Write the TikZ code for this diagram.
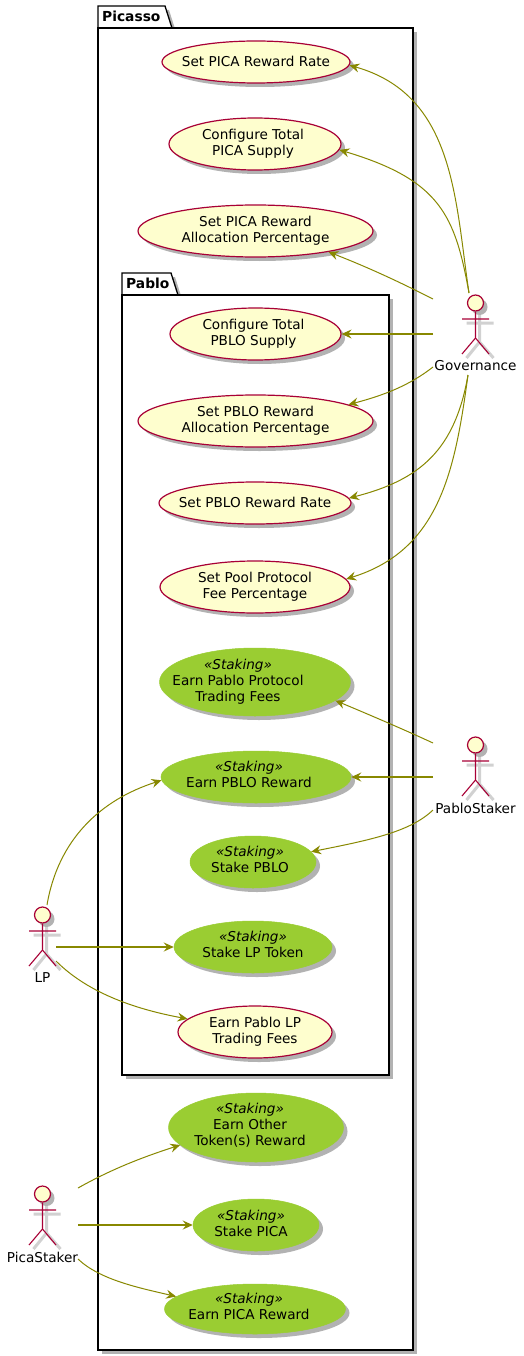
\documentclass[tikz,border=0pt]{standalone}
\usepackage{fontspec}
\setmainfont{DejaVu Sans}
\usetikzlibrary{arrows.meta,shapes.geometric,shadows}
\definecolor{CaseLine}{HTML}{A80036}
\definecolor{CaseFill}{HTML}{FEFECE}
\definecolor{StakeFill}{HTML}{9ACD32}
\definecolor{EdgeColor}{HTML}{888800}
\tikzset{
  txt/.style={align=center,inner sep=0pt,text=black,font=\fontsize{13.6}{16}\selectfont},
  boxshadow/.style={drop shadow={shadow xshift=4pt,shadow yshift=-4pt,fill=black!30,opacity=1}},
  usecase/.style={ellipse,draw=CaseLine,line width=1.2pt,fill=CaseFill,inner sep=0pt,boxshadow},
  stakecase/.style={ellipse,draw=StakeFill,line width=0.5pt,fill=StakeFill,inner sep=0pt,boxshadow},
  pkg/.style={draw=black,line width=1.3pt,fill=white,boxshadow},
  pkgname/.style={inner sep=0pt,anchor=west,font=\fontsize{13.8}{16}\selectfont\bfseries},
  edge/.style={draw=EdgeColor,line width=1pt,-{Stealth[length=10pt,width=9pt,inset=3.5pt]}},
  flatedge/.style={edge,line width=1.15pt},
}
\newcommand{\stereo}{\textit{«Staking»}}
\newcommand{\actorman}[4]{%
  \begin{scope}[shift={(#2,#3)}]
    \draw[black!18,line width=3pt] (4,12) -- (4,39) (-9,20) -- (18,20) (4,39) -- (-9,55) (4,39) -- (18,55);
    \node[circle,draw=CaseLine,line width=1.2pt,fill=CaseFill,minimum size=16pt,inner sep=0pt,
          drop shadow={shadow xshift=4pt,shadow yshift=-4pt,fill=black!30,opacity=1}] (#1) at (0,0) {};
    \draw[CaseLine,line width=1.1pt] (#1.south) -- (0,35) (-13.5,16) -- (13.5,16)
      (0,35) -- (-13.5,51) (0,35) -- (13.5,51);
    \node[txt] (#1name) at (0,63) {#4};
  \end{scope}}
\begin{document}
\begin{tikzpicture}[x=1pt,y=-1pt]
\useasboundingbox (0,0) rectangle (523,1356);
\fill[white] (0,0) rectangle (523,1356);

\draw[pkg] (98,28) -- (98,6) -- (165,6) -- (172,28) -- cycle;
\draw[pkg] (98,28) rectangle (413,1350);
\node[pkgname] (picasso) at (102,16.5) {Picasso};
\draw[pkg] (122,295) -- (122,273) -- (171,273) -- (178,295) -- cycle;
\draw[pkg] (122,295) rectangle (389,1075);
\node[pkgname] (pablo) at (126,283.5) {Pablo};

\node[usecase,minimum width=188pt,minimum height=42pt,label={[txt,yshift=1pt]center:{Set PICA Reward Rate}}] (picarate) at (256,62) {};
\node[usecase,minimum width=172pt,minimum height=52pt,label={[txt,xshift=-2pt]center:{Configure Total\\PICA Supply}}] (picasupply) at (255,144) {};
\node[usecase,minimum width=235pt,minimum height=52pt,label={[txt]center:{Set PICA Reward\\Allocation Percentage}}] (picaalloc) at (255.5,231) {};
\node[usecase,minimum width=171pt,minimum height=52pt,label={[txt,xshift=-2pt]center:{Configure Total\\PBLO Supply}}] (pblosupply) at (255.5,334) {};
\node[usecase,minimum width=235pt,minimum height=52pt,label={[txt]center:{Set PBLO Reward\\Allocation Percentage}}] (pbloalloc) at (255.5,421) {};
\node[usecase,minimum width=192pt,minimum height=42pt,label={[txt,yshift=1pt]center:{Set PBLO Reward Rate}}] (pblorate) at (255,503) {};
\node[usecase,minimum width=190pt,minimum height=52pt,label={[txt]center:{Set Pool Protocol\\Fee Percentage}}] (poolfee) at (255,587) {};
\node[usecase,minimum width=154pt,minimum height=52pt,label={[txt]center:{Earn Pablo LP\\Trading Fees}}] (lpfees) at (255,1032) {};

\node[stakecase,minimum width=191pt,minimum height=68pt,label={[txt,xshift=-17pt]center:{\stereo\\Earn Pablo Protocol\\Trading Fees}}] (protofees) at (255,682) {};
\node[stakecase,minimum width=190pt,minimum height=52pt,label={[txt,xshift=-7pt,yshift=2.5pt]center:{\stereo\\Earn PBLO Reward}}] (earnpblo) at (256,777) {};
\node[stakecase,minimum width=126pt,minimum height=52pt,label={[txt,xshift=-3pt,yshift=3pt]center:{\stereo\\Stake PBLO}}] (stakepblo) at (253,862) {};
\node[stakecase,minimum width=158pt,minimum height=52pt,label={[txt,yshift=3pt]center:{\stereo\\Stake LP Token}}] (stakelp) at (253,947) {};
\node[stakecase,minimum width=175pt,minimum height=69pt,label={[txt,xshift=-6pt,yshift=2pt]center:{\stereo\\Earn Other\\Token(s) Reward}}] (earnother) at (256,1127.5) {};
\node[stakecase,minimum width=126pt,minimum height=52pt,label={[txt,xshift=-5pt,yshift=2pt]center:{\stereo\\Stake PICA}}] (stakepica) at (256,1225) {};
\node[stakecase,minimum width=181pt,minimum height=50pt,label={[txt,xshift=-6pt,yshift=3pt]center:{\stereo\\Earn PICA Reward}}] (earnpica) at (255,1309) {};

\actorman{gov}{475.5}{303}{Governance}
\actorman{pablostaker}{475.5}{745}{PabloStaker}
\actorman{lp}{42.5}{915}{LP}
\actorman{picastaker}{42.5}{1194}{PicaStaker}

\coordinate (govtop) at (469,293);
\coordinate (govleftA) at (433,299);
\coordinate (govleftB) at (433,334);
\coordinate (govleftC) at (433,367);
\coordinate (govbot) at (468,375);
\coordinate (psleftA) at (433,743);
\coordinate (psleftB) at (433,777);
\coordinate (psleftC) at (433,810);
\coordinate (lptop) at (47,905);
\coordinate (lpmid) at (56,947);
\coordinate (lpbot) at (56,961);
\coordinate (pstop) at (78,1188);
\coordinate (psmid) at (78,1225);
\coordinate (psbot) at (78,1259);

\draw[edge] (govtop) .. controls (455,200) and (455,95) .. (picarate.-2);
\draw[edge] (govtop) .. controls (455,215) and (440,180) .. (picasupply.-4);
\draw[edge] (govleftA) .. controls (415,290) and (380,272) .. (picaalloc.-16);
\draw[flatedge] (govleftB) -- (pblosupply);
\draw[edge] (govleftC) .. controls (410,385) and (385,395) .. (pbloalloc.10);
\draw[edge] (govbot) .. controls (455,450) and (420,480) .. (pblorate.3.6);
\draw[edge] (govbot) .. controls (455,470) and (440,550) .. (poolfee.5.5);
\draw[edge] (psleftA) .. controls (405,730) and (370,715) .. (protofees.-13);
\draw[flatedge] (psleftB) -- (earnpblo);
\draw[edge] (psleftC) .. controls (410,832) and (370,840) .. (stakepblo.10);
\draw[edge] (lptop) .. controls (58,840) and (100,800) .. (earnpblo.182.5);
\draw[flatedge] (lpmid) -- (stakelp);
\draw[edge] (lpbot) .. controls (90,995) and (140,1010) .. (lpfees.169.6);
\draw[edge] (pstop) .. controls (110,1170) and (140,1158) .. (earnother.193.7);
\draw[flatedge] (psmid) -- (stakepica);
\draw[edge] (psbot) .. controls (100,1280) and (140,1288) .. (earnpica.171.5);
\end{tikzpicture}
\end{document}
